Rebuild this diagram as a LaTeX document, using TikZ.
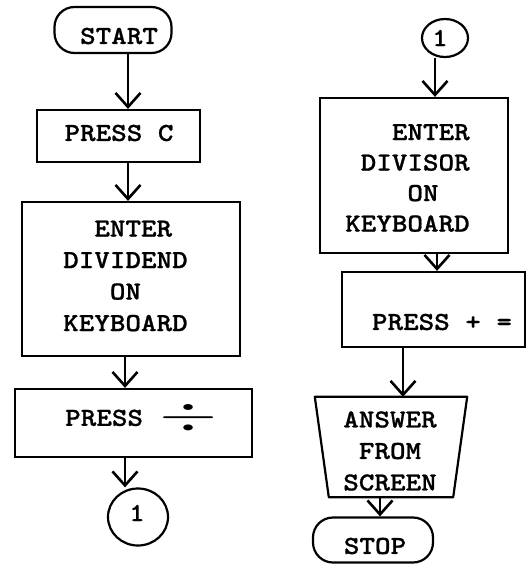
\documentclass[tikz,border=0pt]{standalone}
\usepackage{fontspec}
\usepackage{graphicx}
\usetikzlibrary{arrows.meta,shapes.geometric}
\newfontfamily\tw[FakeStretch=1.14,FakeBold=0.8]{lmmonolt10-bold.otf}
\begin{document}
\begin{tikzpicture}[x=1pt,y=-1pt,
  box/.style={draw,line width=2.2pt,inner sep=0pt},
  term/.style={box,rounded corners=20pt},
  conn/.style={draw,line width=2.2pt,ellipse,inner sep=0pt},
  txt/.style={font=\tw\fontsize{26}{31.5}\selectfont,inner sep=0pt},
  arr/.style={line width=2pt,-{Straight Barb[length=14pt,width=25pt,line width=2.6pt]}}]
\useasboundingbox (0,0) rectangle (531,565);
% left column
\node[term,minimum width=117pt,minimum height=46pt] (start) at (113,30) {};
\node[txt] (startt) at (119,36) {START};
\node[box,minimum width=163pt,minimum height=52pt] (pressc) at (118.5,136) {};
\node[txt] (presst) at (119,133) {PRESS C};
\node[box,minimum width=218pt,minimum height=154pt] (dvd) at (131,279) {};
\node[txt,align=left,anchor=west] (dvdt) at (63,276) {\hphantom{XX}ENTER\\DIVIDEND\\\hphantom{XXX}ON\\KEYBOARD};
\node[box,minimum width=237pt,minimum height=68pt] (pdiv) at (133.5,423) {};
\node[txt,anchor=west] (pdivt) at (65,418) {PRESS\hspace{16pt}\raisebox{-4pt}{\scalebox{3}[1.9]{$\div$}}};
\node[conn,minimum width=60pt,minimum height=57pt] (c1l) at (138,517) {};
\node[txt] (c1lt) at (137,513) {1};
% right column
\node[conn,minimum width=46pt,minimum height=38pt] (c1r) at (445,38) {};
\node[txt] (c1rt) at (440,38) {1};
\node[box,minimum width=188pt,minimum height=155pt] (dvs) at (414,175.5) {};
\node[txt,align=left,anchor=west,font=\tw\fontsize{26}{30.5}\selectfont] (dvst) at (345,178) {\hphantom{XXX}ENTER\\\hphantom{X}DIVISOR\\\hphantom{XXXX}ON\\KEYBOARD};
\node[box,minimum width=183pt,minimum height=75pt] (pplus) at (433.5,309.5) {};
\node[txt] (pplust) at (442,322) {PRESS + =};
\node[inner sep=0pt,minimum width=152pt,minimum height=100pt] (trap) at (391,447) {};
\draw[line width=2.2pt,line join=round] (trap.north west) -- (trap.north east) -- ([xshift=-14pt]trap.south east) -- ([xshift=14pt]trap.south west) -- cycle;
\node[txt,align=center] (trapt) at (390,451) {ANSWER\\FROM\\SCREEN};
\node[term,minimum width=120pt,minimum height=45pt] (stop) at (373,540) {};
\node[txt] (stopt) at (375,546) {STOP};
% connectors
\draw[arr] (start.south -| 128,0) -- (pressc.north -| 128,0);
\draw[arr] (pressc.south -| 128,0) -- (dvd.north -| 128,0);
\draw[arr] (dvd.south -| 125,0) -- (pdiv.north -| 125,0);
\draw[arr] (pdiv.south -| 125,0) -- (c1l.north -| 125,0);
\draw[arr] (c1r.south -| 435,0) -- (dvs.north -| 435,0);
\draw[arr] (dvs.south -| 437,0) -- (pplus.north -| 437,0);
\draw[arr] (pplus.south -| 403,0) -- (trap.north -| 403,0);
\draw[arr] (trap.south -| 380,0) -- (stop.north -| 380,0);
\end{tikzpicture}
\end{document}
